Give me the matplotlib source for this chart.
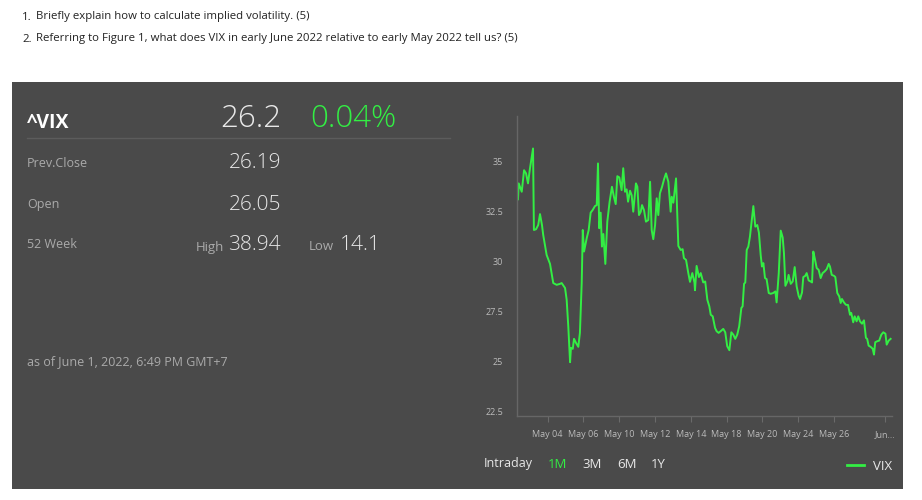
import matplotlib
matplotlib.use("Agg")
import matplotlib.pyplot as plt
from matplotlib.patches import Rectangle
from matplotlib.lines import Line2D

plt.rcParams['font.family'] = ['Open Sans', 'DejaVu Sans']

# ------------------------------------------
# data (x = trading-day offset from May 04)
# ------------------------------------------
questions = [
    "Briefly explain how to calculate implied volatility. (5)",
    "Referring to Figure 1, what does VIX in early June 2022 relative to early May 2022 tell us? (5)",
]

quote_rows = [("Prev.Close", "26.19"), ("Open", "26.05")]
last_price = "26.2"
change_pct = "0.04%"
week52_high = "38.94"
week52_low = "14.1"
as_of = "as of June 1, 2022, 6:49 PM GMT+7"

tick_pos = [0, 2, 4, 6, 8, 10, 12, 14, 16, 18.84]
tick_labels = ["May 04", "May 06", "May 10", "May 12", "May 14", "May 18",
               "May 20", "May 24", "May 26", "Jun..."]
y_ticks = [22.5, 25, 27.5, 30, 32.5, 35]
y_labels = ["22.5", "25", "27.5", "30", "32.5", "35"]

vix_x = [-1.66, -1.62, -1.45, -1.32, -1.21, -1.10, -0.99, -0.82, -0.77, -0.65,
         -0.53, -0.43, -0.32, -0.25, -0.06, 0.13, 0.31, 0.50, 0.69, 0.78,
         0.97, 1.06, 1.15, 1.25, 1.30, 1.40, 1.47, 1.58, 1.71, 1.80,
         1.90, 1.96, 2.03, 2.18, 2.29, 2.40, 2.51, 2.64, 2.74, 2.81,
         2.88, 2.96, 3.03, 3.11, 3.22, 3.33, 3.46, 3.59, 3.70, 3.80,
         3.89, 4.00, 4.13, 4.22, 4.32, 4.41, 4.49, 4.60, 4.69, 4.78,
         4.93, 5.01, 5.10, 5.20, 5.27, 5.38, 5.49, 5.62, 5.72, 5.81,
         5.90, 6.00, 6.09, 6.18, 6.27, 6.39, 6.50, 6.61, 6.74, 6.87,
         6.93, 7.02, 7.17, 7.30, 7.43, 7.54, 7.61, 7.73, 7.85, 7.95,
         8.08, 8.20, 8.23, 8.32, 8.45, 8.55, 8.69, 8.80, 8.92, 9.03,
         9.11, 9.22, 9.35, 9.44, 9.55, 9.66, 9.81, 9.92, 10.03, 10.15,
         10.26, 10.37, 10.48, 10.59, 10.70, 10.82, 10.89, 10.97, 11.04, 11.12,
         11.21, 11.30, 11.40, 11.49, 11.60, 11.71, 11.80, 11.90, 11.97, 12.05,
         12.14, 12.23, 12.35, 12.46, 12.60, 12.72, 12.79, 12.91, 13.02, 13.13,
         13.20, 13.28, 13.39, 13.46, 13.58, 13.69, 13.80, 13.91, 14.02, 14.10,
         14.21, 14.28, 14.39, 14.47, 14.58, 14.69, 14.77, 14.84, 14.93, 15.03,
         15.14, 15.25, 15.36, 15.47, 15.59, 15.70, 15.77, 15.87, 16.00, 16.07,
         16.18, 16.29, 16.37, 16.44, 16.55, 16.66, 16.78, 16.89, 16.96, 17.07,
         17.15, 17.26, 17.35, 17.45, 17.56, 17.67, 17.78, 17.85, 17.93, 18.04,
         18.16, 18.23, 18.30, 18.41, 18.52, 18.64, 18.75, 18.87, 18.94, 19.05,
         19.16]
vix_y = [33.12, 33.92, 33.50, 34.58, 34.42, 33.92, 34.67, 35.67, 31.58, 31.62,
         31.83, 32.38, 31.83, 31.33, 30.33, 29.88, 28.92, 28.83, 28.88, 28.92,
         28.67, 28.08, 26.75, 24.95, 25.67, 25.62, 26.12, 25.92, 25.72, 26.42,
         28.92, 31.58, 30.50, 31.17, 31.58, 32.45, 32.58, 32.78, 32.83, 34.92,
         31.67, 32.45, 30.75, 31.38, 29.88, 32.00, 33.00, 33.75, 33.25, 32.88,
         34.28, 34.22, 33.58, 34.68, 33.50, 33.62, 33.00, 33.55, 33.33, 32.50,
         33.92, 33.75, 32.33, 32.50, 32.83, 32.58, 32.00, 32.08, 34.00, 31.58,
         31.12, 31.83, 33.17, 32.33, 33.42, 33.75, 34.12, 34.42, 34.00, 32.50,
         33.25, 32.95, 34.17, 30.78, 30.58, 30.62, 30.17, 30.08, 29.45, 28.98,
         29.42, 28.95, 28.56, 29.78, 29.22, 29.42, 28.95, 29.00, 28.08, 27.75,
         27.33, 27.25, 26.67, 26.50, 26.42, 26.50, 26.62, 26.45, 25.75, 25.55,
         26.45, 26.33, 26.12, 26.33, 26.75, 27.67, 27.75, 28.88, 28.95, 30.58,
         30.75, 31.25, 32.08, 32.78, 31.75, 31.83, 31.45, 30.33, 29.75, 29.92,
         29.17, 29.12, 28.42, 28.38, 28.42, 28.50, 27.95, 29.42, 31.55, 31.20,
         30.42, 28.78, 29.00, 29.33, 28.88, 29.00, 29.72, 28.75, 28.28, 28.12,
         28.45, 29.22, 29.28, 29.42, 29.05, 29.00, 28.95, 30.50, 30.12, 29.67,
         29.58, 29.17, 29.42, 29.50, 29.62, 29.88, 29.75, 29.33, 29.28, 29.22,
         28.42, 28.25, 27.92, 28.12, 27.95, 27.83, 27.82, 27.33, 27.42, 26.95,
         27.25, 27.00, 27.25, 27.00, 26.88, 27.05, 26.17, 26.12, 25.78, 25.72,
         25.62, 25.33, 25.95, 26.00, 26.03, 26.33, 26.45, 26.38, 25.83, 26.03,
         26.12]

ranges = ["1M", "3M", "6M", "1Y"]

# colours
PANEL = "#4a4a4a"
GREEN = "#33ee44"
GREY_TXT = "#aaaaaa"
LIGHT = "#e8e8e8"

W, H = 922, 500
fig = plt.figure(figsize=(W / 100, H / 100), dpi=100)
fig.patch.set_facecolor("white")


def fx(px):
    return px / W


def fy(py):
    return 1 - py / H


# dark card (behind the chart axes)
fig.patches.append(Rectangle((fx(12), fy(489)), fx(903) - fx(12), fy(82) - fy(489),
                             transform=fig.transFigure, facecolor=PANEL,
                             edgecolor="none", zorder=-1))

# questions above the card
for i, q in enumerate(questions):
    yy = fy(17 + 22 * i)
    fig.text(fx(22), yy, f"{i + 1}.", fontsize=8.2, color="#222222", va="center")
    fig.text(fx(36), yy, q, fontsize=8.2, color="#222222", va="center")

# ---- quote block ----
fig.text(fx(27), fy(123), "^VIX", fontsize=14, fontweight="bold", color="white", va="center")
fig.text(fx(281), fy(119), last_price, fontsize=22.5, fontweight="light", color=LIGHT,
         va="center", ha="right")
fig.text(fx(310), fy(119), change_pct, fontsize=22.5, fontweight="light", color=GREEN,
         va="center", ha="left")
fig.add_artist(Line2D([fx(27), fx(450)], [fy(138), fy(138)], color="#5c5c5c", lw=1))

for i, (lab, val) in enumerate(quote_rows):
    yy = fy(163 + 42 * i)
    fig.text(fx(27), yy, lab, fontsize=9, color=GREY_TXT, va="center")
    fig.text(fx(281), yy, val, fontsize=15, fontweight="light", color=LIGHT,
             va="center", ha="right")

fig.text(fx(27), fy(245), "52 Week", fontsize=9, color=GREY_TXT, va="center")
fig.text(fx(224), fy(247), "High", fontsize=9.5, color=GREY_TXT, va="center", ha="right")
fig.text(fx(281), fy(245), week52_high, fontsize=15, fontweight="light", color=LIGHT,
         va="center", ha="right")
fig.text(fx(309), fy(247), "Low", fontsize=9.5, color=GREY_TXT, va="center")
fig.text(fx(340), fy(245), week52_low, fontsize=15, fontweight="light", color=LIGHT,
         va="center")
fig.text(fx(27), fy(362), as_of, fontsize=9, color=GREY_TXT, va="center")

# ---- chart ----
ax = fig.add_axes([fx(517), fy(416), fx(891.7) - fx(517), fy(116) - fy(416)])
ax.set_facecolor("none")
ax.plot(vix_x, vix_y, color=GREEN, lw=1.4)
ax.set_xlim(-1.715, 19.22)
ax.set_ylim(22.25, 37.3)

ax.set_yticks(y_ticks)
ax.set_yticklabels(y_labels)
ax.set_xticks(tick_pos)
ax.set_xticklabels(tick_labels)
ax.tick_params(axis="y", length=0, pad=10, labelsize=6.5, labelcolor="#bbbbbb")
ax.tick_params(axis="x", length=4, width=0.8, color="#6a6a6a", pad=6,
               labelsize=6.5, labelcolor="#bbbbbb")
for side in ["top", "right"]:
    ax.spines[side].set_visible(False)
for side in ["left", "bottom"]:
    ax.spines[side].set_color("#666666")
    ax.spines[side].set_linewidth(1)

# range selector and legend
fig.text(fx(484), fy(464), "Intraday", fontsize=9, color=LIGHT, va="center")
for lab, px in zip(ranges, [548, 582, 617, 651]):
    fig.text(fx(px), fy(464), lab, fontsize=9.5, color=GREEN if lab == "1M" else LIGHT,
             va="center")
fig.add_artist(Line2D([fx(847), fx(864)], [fy(465), fy(465)], color=GREEN, lw=2))
fig.text(fx(873), fy(466), "VIX", fontsize=9.5, color=LIGHT, va="center")

fig.savefig("out.png", dpi=100, facecolor=fig.get_facecolor())
